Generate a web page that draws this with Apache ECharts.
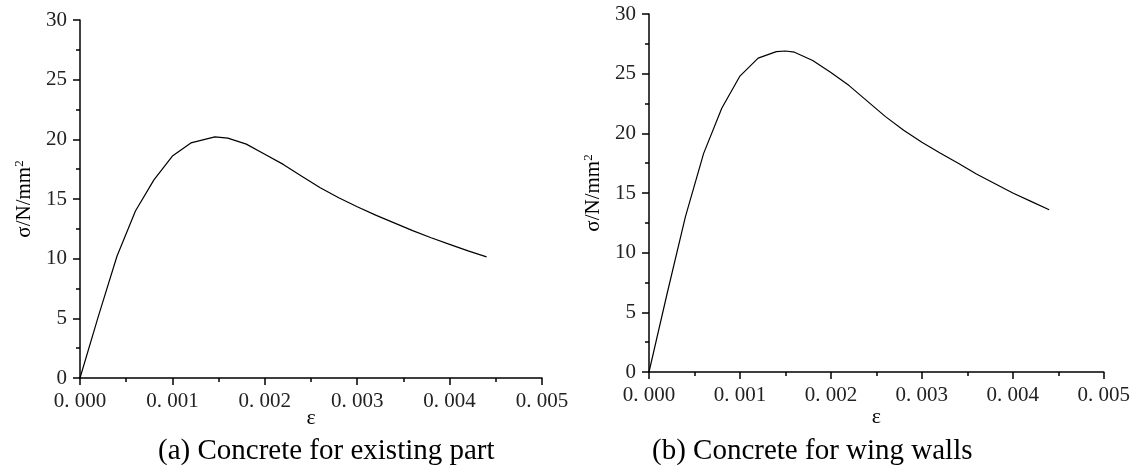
<!DOCTYPE html>
<html>
<head>
<meta charset="utf-8">
<title>concrete sigma-epsilon</title>
<script src="https://cdn.jsdelivr.net/npm/echarts@6/dist/echarts.min.js"></script>
<style>
html, body { margin: 0; padding: 0; background: #fff; }
#chart { width: 1133px; height: 465px; }
</style>
</head>
<body>
<div id="chart"></div>
<script>
// (a) 既有部分混凝土
var epsA = [0, 0.0002, 0.0004, 0.0006, 0.0008, 0.0010, 0.0012, 0.00146, 0.0016, 0.0018, 0.0020,
	0.0022, 0.0024, 0.0026, 0.0028, 0.0030, 0.0032, 0.0034, 0.0036, 0.0038, 0.0040, 0.0042, 0.0044];
var sigA = [0, 5.2, 10.2, 14.0, 16.6, 18.6, 19.7, 20.2, 20.1, 19.6, 18.75,
	17.9, 16.9, 15.95, 15.1, 14.35, 13.65, 13.0, 12.35, 11.75, 11.2, 10.65, 10.15];
// (b) 翼墙混凝土
var epsB = [0, 0.0002, 0.0004, 0.0006, 0.0008, 0.0010, 0.0012, 0.0014, 0.0015, 0.0016, 0.0018, 0.0020,
	0.0022, 0.0024, 0.0026, 0.0028, 0.0030, 0.0032, 0.0034, 0.0036, 0.0038, 0.0040, 0.0042, 0.0044];
var sigB = [0, 6.6, 13.0, 18.3, 22.1, 24.8, 26.3, 26.85, 26.9, 26.8, 26.1, 25.1,
	24.0, 22.7, 21.4, 20.25, 19.25, 18.35, 17.5, 16.6, 15.8, 15.0, 14.3, 13.6];

var captions = ['(a) Concrete for existing part', '(b) Concrete for wing walls'];
var xName = 'ε';
var yName = 'σ/N/mm{sup|2}';

var serif = '"Liberation Serif", "Times New Roman", serif';
var line = { color: '#000', width: 1.5 };

function pairs(xs, ys) {
	return xs.map(function(x, i) { return [x, ys[i]]; });
}

function makeX(idx, gap) {
	return {
		type: 'value', gridIndex: idx,
		min: 0, max: 0.005, interval: 0.001,
		name: xName, nameLocation: 'middle', nameGap: gap, nameMoveOverlap: false,
		nameTextStyle: { fontFamily: serif, fontSize: 22, color: '#000' },
		axisLine: { show: true, lineStyle: line },
		axisTick: { show: true, length: 7, lineStyle: line },
		minorTick: { show: true, splitNumber: 2, length: 4, lineStyle: line },
		splitLine: { show: false },
		axisLabel: {
			margin: 13, fontFamily: serif, fontSize: 21, color: '#222',
			formatter: function(v) { return v.toFixed(3).replace('.', '. '); }
		}
	};
}

function makeY(idx) {
	return {
		type: 'value', gridIndex: idx,
		min: 0, max: 30, interval: 5,
		name: yName, nameLocation: 'middle', nameGap: 44, nameMoveOverlap: false,
		nameTextStyle: {
			fontFamily: serif, fontSize: 21, color: '#000',
			rich: { sup: { fontFamily: serif, fontSize: 13, color: '#000', padding: [0, 0, 10, 0] } }
		},
		axisLine: { show: true, lineStyle: line },
		axisTick: { show: true, length: 7, lineStyle: line },
		minorTick: { show: true, splitNumber: 2, length: 4, lineStyle: line },
		splitLine: { show: false },
		axisLabel: { margin: 13, fontFamily: serif, fontSize: 21, color: '#222' }
	};
}

function makeLine(idx, xs, ys) {
	return {
		type: 'line', xAxisIndex: idx, yAxisIndex: idx,
		data: pairs(xs, ys),
		showSymbol: false, smooth: false,
		lineStyle: { color: '#000', width: 1.2 },
		animation: false
	};
}

var myChart = echarts.init(document.getElementById('chart'));
var option = {
	backgroundColor: '#fff',
	animation: false,
	grid: [
		{ left: 80, top: 20, width: 462, height: 358 },
		{ left: 649, top: 14, width: 457, height: 358 }
	],
	xAxis: [makeX(0, 29), makeX(1, 34)],
	yAxis: [makeY(0), makeY(1)],
	series: [makeLine(0, epsA, sigA), makeLine(1, epsB, sigB)],
	graphic: [
		{ type: 'text', left: 158, top: 437, style: { text: captions[0], font: '29px ' + serif, fill: '#000' } },
		{ type: 'text', left: 652, top: 437, style: { text: captions[1], font: '29px ' + serif, fill: '#000' } }
	]
};
myChart.setOption(option);
window.addEventListener('resize', function() {
	myChart.resize();
});
</script>
</body>
</html>
